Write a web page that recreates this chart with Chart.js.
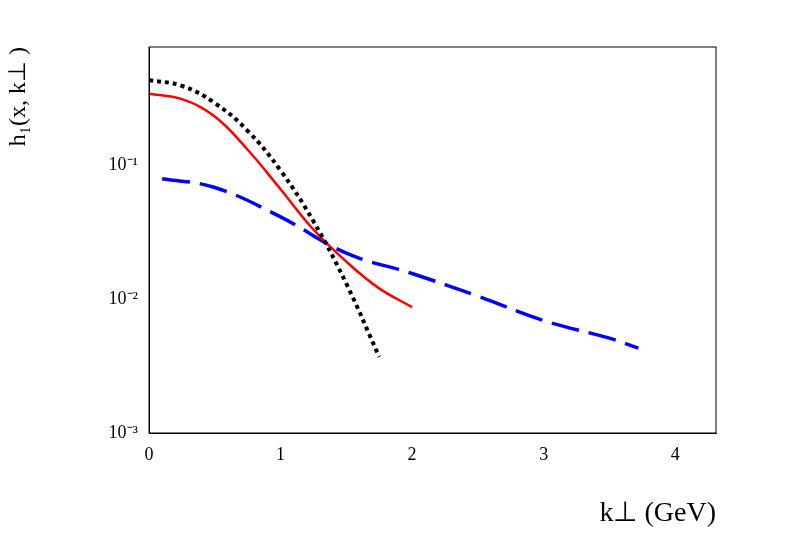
<!DOCTYPE html>
<html><head><meta charset="utf-8">
<script src="https://cdn.jsdelivr.net/npm/chart.js@4"></script>
<style>body{margin:0;background:#fff}#c{display:block}</style>
</head><body>
<canvas id="c" width="788" height="534"></canvas>
<script>
// data
const blackK = [0, 0.25, 0.5, 0.75, 1.0, 1.25, 1.5, 1.75];
const blackH = [0.43, 0.39, 0.29, 0.18, 0.091, 0.038, 0.013, 0.0037];
const redK = [0, 0.25, 0.5, 0.75, 1.0, 1.25, 1.5, 1.75, 2.0];
const redH = [0.34, 0.31, 0.23, 0.13, 0.066, 0.033, 0.019, 0.012, 0.0087];
const blueK = [0.1, 0.5, 1.0, 1.5, 2.0, 2.5, 3.0, 3.5, 3.72];
const blueH = [0.079, 0.068, 0.041, 0.022, 0.0155, 0.0105, 0.0069, 0.0051, 0.0043];
const yLabels = {"0.1": "10⁻¹", "0.01": "10⁻²", "0.001": "10⁻³"};

const pts = (k, h) => k.map((v, i) => ({x: v, y: h[i]}));
const font = {family: "Liberation Serif", size: 18};

new Chart(document.getElementById('c'), {
  type: 'line',
  data: {
    datasets: [
      {data: pts(blackK, blackH), borderColor: '#000', borderWidth: 4, borderDash: [4, 4], tension: 0.4, pointRadius: 0},
      {data: pts(redK, redH), borderColor: '#f00', borderWidth: 2.5, tension: 0.4, pointRadius: 0},
      {data: pts(blueK, blueH), borderColor: '#00f', borderWidth: 3.5, borderDash: [28, 10], tension: 0.4, pointRadius: 0}
    ]
  },
  options: {
    responsive: false, animation: false, maintainAspectRatio: false,
    layout: {padding: {top: 47, right: 72}},
    plugins: {legend: {display: false}, tooltip: {enabled: false}},
    scales: {
      x: {
        type: 'linear', min: 0, max: 4.31,
        afterFit: s => { s.height = 101; },
        grid: {display: false, drawTicks: true, tickLength: 8, color: '#000'},
        border: {color: '#000'},
        afterBuildTicks: s => { const t = []; for (let i = 0; i <= 21; i++) t.push({value: i * 0.2}); s.ticks = t; },
        ticks: {color: '#000', font: font, maxRotation: 0, autoSkip: false,
          callback: v => Math.abs(v - Math.round(v)) < 1e-6 ? String(Math.round(v)) : ''},
        title: {display: true, text: 'k⊥ (GeV)', align: 'end', color: '#000', font: {family: "Liberation Serif", size: 28}, padding: {top: 4}}
      },
      y: {
        type: 'logarithmic', min: 0.001, max: 0.76,
        afterFit: s => { s.width = 149; },
        grid: {display: false, drawTicks: true, tickLength: 8},
        border: {color: '#000'},
        afterBuildTicks: s => { const t = []; [0.001, 0.01, 0.1].forEach(d => { for (let m = 1; m < 10; m++) { const v = d * m; if (v <= 0.76) t.push({value: v}); } }); s.ticks = t; },
        ticks: {color: '#000', font: font, autoSkip: false,
          callback: v => yLabels[String(+v.toPrecision(3))] || ''},
        title: {display: true, text: 'h₁(x, k⊥ )', align: 'end', color: '#000', font: {family: "Liberation Serif", size: 24}}
      }
    }
  },
  plugins: [{
    id: 'box',
    afterDraw(c) {
      const a = c.chartArea, g = c.ctx;
      g.save(); g.strokeStyle = '#000'; g.lineWidth = 1;
      g.strokeRect(a.left, a.top, a.right - a.left, a.bottom - a.top);
      g.restore();
    }
  }]
});
</script>
</body></html>
